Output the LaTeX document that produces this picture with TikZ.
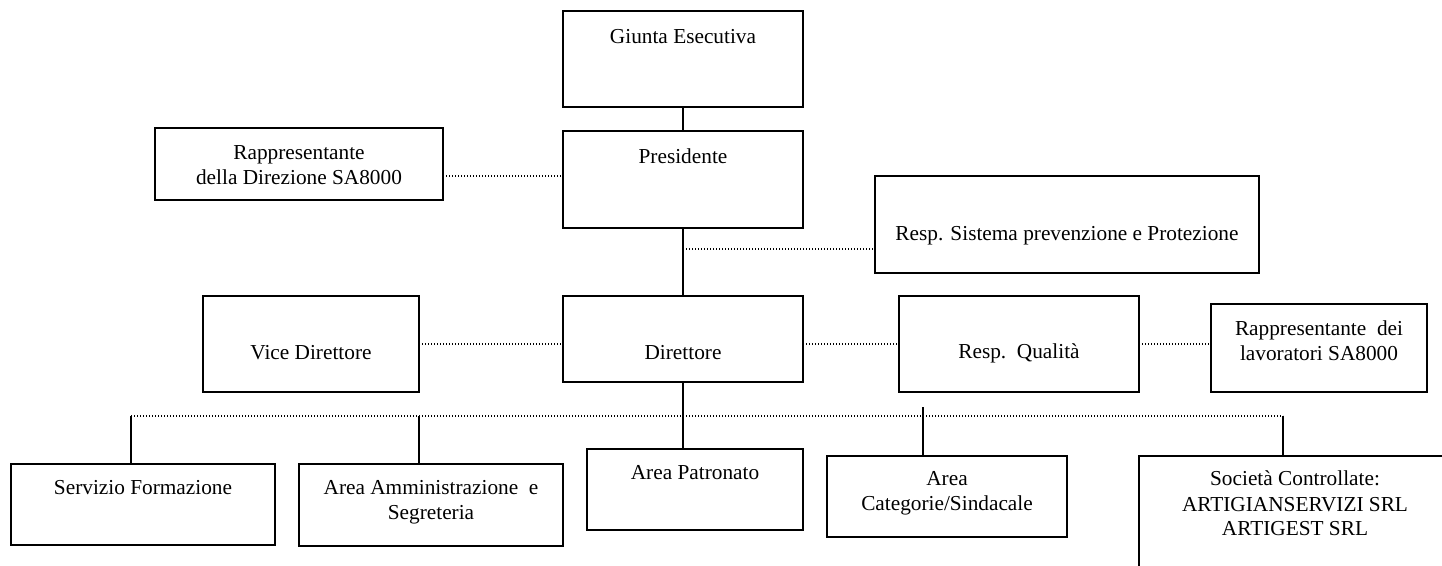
\documentclass[tikz,border=0pt]{standalone}
\usepackage{fontspec}
\setmainfont{Liberation Serif}
\begin{document}
\begin{tikzpicture}[x=1pt,y=-1pt,
  box/.style={draw,line width=2pt,inner sep=0pt,outer sep=0pt,anchor=north west},
  txt/.style={anchor=base,inner sep=0pt,font=\fontsize{21.3}{24.5}\selectfont},
  solidline/.style={line width=2pt},
  dotline/.style={line width=1.2pt,dash pattern=on 1.2pt off 1.8pt}]
\useasboundingbox (0,0) rectangle (1442,565);
% boxes
\node[box,minimum width=240pt,minimum height=96pt] (giunta) at (563,11) {};
\node[box,minimum width=240pt,minimum height=97pt] (pres) at (563,131) {};
\node[box,minimum width=288pt,minimum height=72pt] (rdir) at (155,128) {};
\node[box,minimum width=384pt,minimum height=97pt] (rsys) at (875,176) {};
\node[box,minimum width=216pt,minimum height=96pt] (vice) at (203,296) {};
\node[box,minimum width=240pt,minimum height=86pt] (dir) at (563,296) {};
\node[box,minimum width=240pt,minimum height=96pt] (qual) at (899,296) {};
\node[box,minimum width=216pt,minimum height=88pt] (rlav) at (1211,304) {};
\node[box,minimum width=264pt,minimum height=81pt] (serv) at (11,464) {};
\node[box,minimum width=264pt,minimum height=82pt] (amm) at (299,464) {};
\node[box,minimum width=216pt,minimum height=81pt] (patr) at (587,449) {};
\node[box,minimum width=240pt,minimum height=81pt] (cat) at (827,456) {};
\node[box,minimum width=313pt,minimum height=150pt] (soc) at (1139,456) {};
% texts
\node[txt] (tgiunta) at (683,43) {Giunta Esecutiva};
\node[txt] (tpres) at (683,163) {Presidente};
\node[txt] (trdir1) at (299,159) {Rappresentante};
\node[txt] (trdir2) at (299,184) {della Direzione SA8000};
\node[txt] (trsys) at (1067,240) {Resp. Sistema prevenzione e Protezione};
\node[txt] (tvice) at (311,359) {Vice Direttore};
\node[txt] (tdir) at (683,359) {Direttore};
\node[txt] (tqual) at (1019,358) {Resp.\ \ Qualità};
\node[txt] (trlav1) at (1319,335) {Rappresentante\ \ dei};
\node[txt] (trlav2) at (1319,360) {lavoratori SA8000};
\node[txt] (tserv) at (143,494) {Servizio Formazione};
\node[txt] (tamm1) at (431,494) {Area Amministrazione\ \ e};
\node[txt] (tamm2) at (431,519) {Segreteria};
\node[txt] (tpatr) at (695,479) {Area Patronato};
\node[txt] (tcat1) at (947,485) {Area};
\node[txt] (tcat2) at (947,510) {Categorie/Sindacale};
\node[txt] (tsoc1) at (1295,485) {Società Controllate:};
\node[txt] (tsoc2) at (1295,511) {ARTIGIANSERVIZI SRL};
\node[txt] (tsoc3) at (1295,535) {ARTIGEST SRL};
% connectors
\draw[solidline] (giunta.south) -- (pres.north);
\draw[solidline] (pres.south) -- (dir.north);
\coordinate (jrd) at (443,176);
\draw[dotline] (jrd) -- (jrd -| pres.west);
\coordinate (jsys) at (683,249);
\draw[dotline] (jsys) -- (jsys -| rsys.west);
\draw[dotline] (vice.east) -- (vice.east -| dir.west);
\draw[dotline] (dir.east |- qual.east) -- (qual.west);
\draw[dotline] (qual.east) -- (qual.east -| rlav.west);
\coordinate (busL) at (131,416);
\coordinate (busR) at (1283,416);
\draw[dotline] (busL) -- (busR);
\draw[solidline] (busL) -- (busL |- serv.north);
\coordinate (bamm) at (419,416);
\draw[solidline] (bamm) -- (bamm |- amm.north);
\draw[solidline] (dir.south) -- (dir.south |- patr.north);
\coordinate (bcat) at (923,407);
\draw[solidline] (bcat) -- (bcat |- cat.north);
\draw[solidline] (busR) -- (busR |- soc.north);
\end{tikzpicture}
\end{document}
